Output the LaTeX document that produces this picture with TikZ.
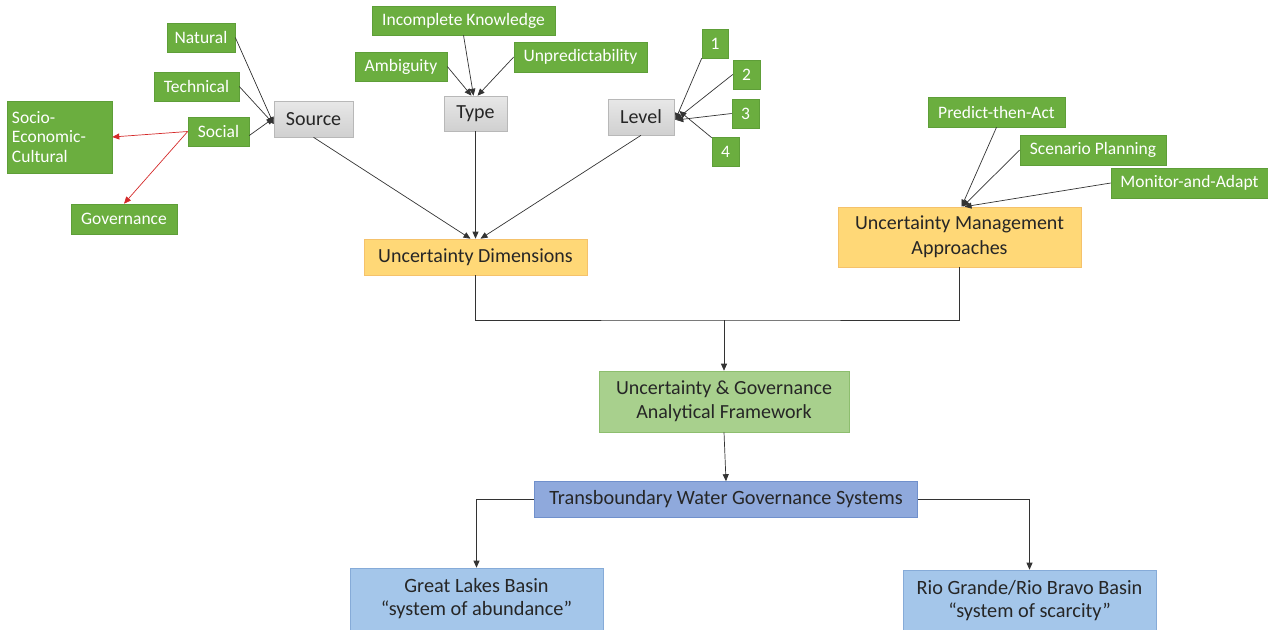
\documentclass[tikz,border=0pt]{standalone}
\usepackage{fontspec}
\setmainfont{Carlito}
\usetikzlibrary{arrows.meta}
\definecolor{gbox}{HTML}{6BAE3F}
\definecolor{gboxd}{HTML}{5E9E38}
\definecolor{grayf}{HTML}{D0D0D0}
\definecolor{grayd}{HTML}{B8B8B8}
\definecolor{yelf}{HTML}{FFD877}
\definecolor{yeld}{HTML}{F5C26B}
\definecolor{lgf}{HTML}{A8D08D}
\definecolor{lgd}{HTML}{8DBE6E}
\definecolor{bluf}{HTML}{8FA9DC}
\definecolor{blud}{HTML}{7090CC}
\definecolor{lbf}{HTML}{A4C6EA}
\definecolor{lbd}{HTML}{86ABD8}
\definecolor{redl}{HTML}{D42A2A}
\definecolor{linec}{HTML}{333333}
\tikzset{
  gnode/.style={fill=gbox, draw=gboxd, line width=0.6pt, text=white, font=\fontsize{17.5}{20}\selectfont, inner sep=0pt, anchor=center},
  graynode/.style={top color=grayf!50!white, bottom color=grayf, draw=grayd, line width=0.6pt, text=black!85, font=\fontsize{20}{22}\selectfont, inner sep=0pt},
  yelnode/.style={fill=yelf, draw=yeld, line width=0.6pt, text=black!85, font=\fontsize{20}{25}\selectfont, inner sep=0pt, align=center},
  lgnode/.style={fill=lgf, draw=lgd, line width=0.6pt, text=black!85, font=\fontsize{20}{24}\selectfont, inner sep=0pt, align=center},
  blnode/.style={fill=bluf, draw=blud, line width=0.6pt, text=black!85, font=\fontsize{20.3}{22}\selectfont, inner sep=0pt},
  lbnode/.style={fill=lbf, draw=lbd, line width=0.6pt, text=black!85, font=\fontsize{20.3}{23}\selectfont, inner sep=0pt, align=center},
  arr/.style={draw=linec, line width=0.7pt, -{Triangle[length=7pt,width=6pt]}},
  rarr/.style={draw=redl, line width=0.7pt, -{Triangle[length=7pt,width=6pt,fill=redl]}},
  ln/.style={draw=linec, line width=0.7pt},
}
\begin{document}
\begin{tikzpicture}[x=1pt,y=-1pt]
\useasboundingbox (0,0) rectangle (1268,629);
% green source nodes
\node[gnode, minimum width=68pt, minimum height=29pt] (nat) at (201,37.5) {Natural};
\node[gnode, minimum width=85pt, minimum height=29pt] (tec) at (196.5,86.5) {Technical};
\node[gnode, minimum width=61pt, minimum height=29pt] (soc) at (218.5,131.5) {Social};
\node[gnode, minimum width=105pt, minimum height=72pt, align=left, text width=95pt, font=\fontsize{17.5}{19.5}\selectfont] (sec) at (59.5,137) {Socio-\\Economic-\\Cultural};
\node[gnode, minimum width=106pt, minimum height=30pt] (gov) at (124,219) {Governance};
\node[graynode, minimum width=79pt, minimum height=36pt] (src) at (313.5,119) {Source};
% type
\node[gnode, minimum width=183pt, minimum height=29pt] (ik) at (463.5,20.5) {Incomplete Knowledge};
\node[gnode, minimum width=92pt, minimum height=29pt] (amb) at (401,66.5) {Ambiguity};
\node[gnode, minimum width=133pt, minimum height=30pt] (unp) at (580.5,57) {Unpredictability};
\node[graynode, minimum width=63pt, minimum height=35pt] (typ) at (475.5,113.5) {Type};
% level
\node[graynode, minimum width=66pt, minimum height=36pt] (lev) at (641,117) {Level};
\node[gnode, minimum width=26pt, minimum height=29pt] (l1) at (715,43.5) {1};
\node[gnode, minimum width=27pt, minimum height=29pt] (l2) at (746.5,74.5) {2};
\node[gnode, minimum width=27pt, minimum height=29pt] (l3) at (745.5,113.5) {3};
\node[gnode, minimum width=27pt, minimum height=29pt] (l4) at (725.5,151.5) {4};
% dimensions
\node[yelnode, minimum width=223pt, minimum height=36pt] (ud) at (475.5,257) {Uncertainty Dimensions};
% management
\node[gnode, minimum width=137pt, minimum height=30pt] (pta) at (996.5,112) {Predict-then-Act};
\node[gnode, minimum width=146pt, minimum height=30pt] (scp) at (1093,150) {Scenario Planning};
\node[gnode, minimum width=157pt, minimum height=30pt] (maa) at (1189.5,183) {Monitor-and-Adapt};
\node[yelnode, minimum width=243pt, minimum height=60pt] (uma) at (959.5,237) {Uncertainty Management\\Approaches};
% framework
\node[lgnode, minimum width=250pt, minimum height=61pt] (ugaf) at (724,401.5) {Uncertainty \& Governance\\Analytical Framework};
\node[blnode, minimum width=383pt, minimum height=36pt] (twgs) at (726,499.5) {Transboundary Water Governance Systems};
\node[lbnode, minimum width=253pt, minimum height=62pt] (glb) at (476.5,599) {Great Lakes Basin\\\textquotedblleft system of abundance\textquotedblright};
\node[lbnode, minimum width=253pt, minimum height=62pt] (rgb) at (1029.5,601) {Rio Grande/Rio Bravo Basin\\\textquotedblleft system of scarcity\textquotedblright};
% source arrows
\draw[arr] (nat.east) -- ([yshift=-5pt]src.west);
\draw[arr] (tec.east) -- ([yshift=-5pt]src.west);
\draw[arr] ([yshift=-4pt]soc.east) -- ([yshift=1pt]src.west);
\draw[rarr] (soc.west) -- (sec.east);
\draw[rarr] (soc.west) -- (gov.north);
% type arrows
\draw[arr] (amb.east) -- ([xshift=-4pt]typ.north);
\draw[arr] (ik.south) -- ([xshift=-2pt]typ.north);
\draw[arr] (unp.west) -- ([xshift=2pt]typ.north);
% level arrows
\draw[arr] (l1.south west) -- ([yshift=-3pt,xshift=1pt]lev.east);
\draw[arr] (l2.west) -- ([yshift=-3pt,xshift=1pt]lev.east);
\draw[arr] (l3.west) -- ([yshift=-3pt,xshift=2pt]lev.east);
\draw[arr] ([yshift=-1pt]l4.north west) -- ([xshift=5pt,yshift=6pt]lev.east);
% dimensions arrows
\draw[arr] (src.south) -- ([xshift=-5pt]ud.north);
\draw[arr] (typ.south) -- (ud.north);
\draw[arr] (lev.south) -- ([xshift=5pt]ud.north);
% management arrows
\draw[arr] (pta.south) -- ([xshift=2pt]uma.north);
\draw[arr] (scp.west) -- ([xshift=3pt]uma.north);
\draw[arr] (maa.west) -- ([xshift=5pt]uma.north);
% merge
\coordinate (mj) at (724,320);
\draw[ln] (ud.south) |- (mj) -| (uma.south);
\draw[arr] (mj) -- (ugaf.north);
\draw[arr] (ugaf.south) -- (twgs.north);
\draw[arr] (twgs.west) -| (glb.north);
\draw[arr] (twgs.east) -| (rgb.north);
\end{tikzpicture}
\end{document}
